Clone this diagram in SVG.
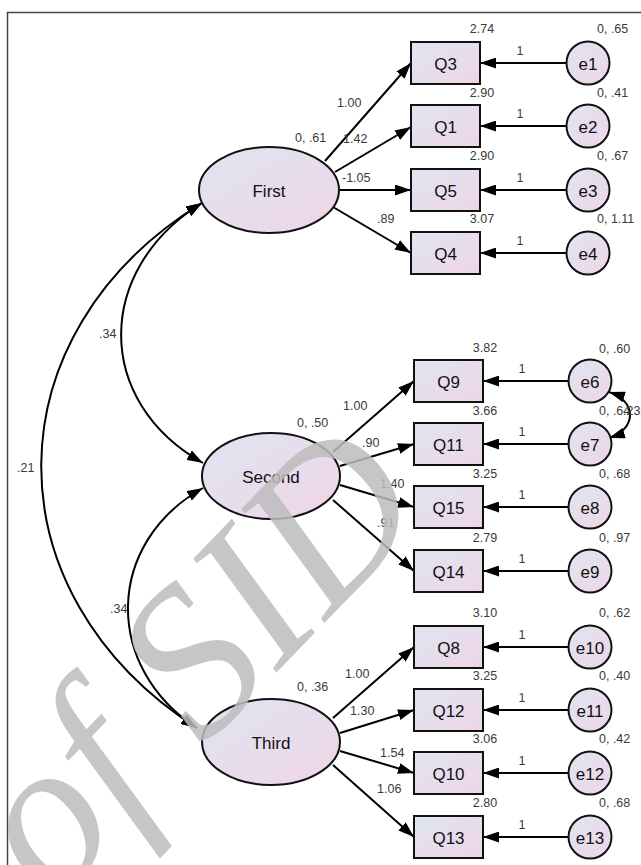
<svg xmlns="http://www.w3.org/2000/svg" width="641" height="865" viewBox="0 0 641 865">
<style>
.n{fill:url(#g);stroke:#111;stroke-width:2}
.t{font-family:"Liberation Sans",Arial,sans-serif;font-size:17px;fill:#111;text-anchor:middle;dominant-baseline:central}
.v{font-family:"Liberation Sans",Arial,sans-serif;font-size:12.5px;fill:#3a3a3a}
.m{text-anchor:middle}
.c{fill:none;stroke:#000;stroke-width:2}
.wm{font-family:"Liberation Serif","Times New Roman",serif;font-size:212px;font-style:italic;fill:#bdbdbd;opacity:0.85}
</style>
<defs>
<linearGradient id="g" x1="0" y1="0" x2="1" y2="1">
<stop offset="0" stop-color="#dfe5f1"/>
<stop offset="1" stop-color="#efd5e7"/>
</linearGradient>
<marker id="a" viewBox="0 0 16 11" refX="16" refY="5.5" markerWidth="16" markerHeight="11" markerUnits="userSpaceOnUse" orient="auto-start-reverse">
<path d="M0,0 L16,5.5 L0,11 z" fill="#000"/>
</marker>
</defs>
<rect x="7.5" y="12.5" width="650" height="870" fill="none" stroke="#444" stroke-width="1.5"/>

<g id="connectors" class="c" marker-end="url(#a)">
<path d="M325,161 L411,63"/>
<path d="M335,172 L411,127"/>
<path d="M339,190 L411,190"/>
<path d="M333,207 L411,253"/>
<path d="M333,452 L414,381"/>
<path d="M340,466 L414,444"/>
<path d="M340,485 L414,507"/>
<path d="M333,500 L414,571"/>
<path d="M333,718 L414,647"/>
<path d="M340,733 L414,710"/>
<path d="M340,751 L414,773"/>
<path d="M333,765 L414,837"/>
<path d="M566,63 L480,63"/>
<path d="M566,126 L480,126"/>
<path d="M566,190 L480,190"/>
<path d="M566,253 L480,253"/>
<path d="M568,381 L483,381"/>
<path d="M568,444 L483,444"/>
<path d="M568,507 L483,507"/>
<path d="M568,571 L483,571"/>
<path d="M568,647 L483,647"/>
<path d="M568,710 L483,710"/>
<path d="M568,773 L483,773"/>
<path d="M568,837 L483,837"/>
<path d="M202,203 C95,269 93,401 203,463" marker-start="url(#a)"/>
<path d="M202,203 C-10,333 -13,593 197,728" marker-start="url(#a)"/>
<path d="M203,488 C105,543 103,667 197,728" marker-start="url(#a)"/>
<path d="M609,392 C637,401 637,429 609,438" marker-start="url(#a)"/>
</g>

<g id="First"><ellipse class="n" cx="269" cy="190" rx="70" ry="43"/><text class="t" x="269" y="191">First</text></g>
<g id="Second"><ellipse class="n" cx="271" cy="476" rx="69" ry="43"/><text class="t" x="271" y="477">Second</text></g>
<g id="Third"><ellipse class="n" cx="271" cy="742" rx="69" ry="43"/><text class="t" x="271" y="743">Third</text></g>

<g id="Q3"><rect class="n" x="411" y="42" width="69" height="42"/><text class="t" x="445.5" y="64">Q3</text></g>
<g id="Q1"><rect class="n" x="411" y="105" width="69" height="42"/><text class="t" x="445.5" y="127">Q1</text></g>
<g id="Q5"><rect class="n" x="411" y="169" width="69" height="42"/><text class="t" x="445.5" y="191">Q5</text></g>
<g id="Q4"><rect class="n" x="411" y="232" width="69" height="42"/><text class="t" x="445.5" y="254">Q4</text></g>
<g id="Q9"><rect class="n" x="414" y="360" width="69" height="42"/><text class="t" x="448.5" y="382">Q9</text></g>
<g id="Q11"><rect class="n" x="414" y="423" width="69" height="42"/><text class="t" x="448.5" y="445">Q11</text></g>
<g id="Q15"><rect class="n" x="414" y="486" width="69" height="42"/><text class="t" x="448.5" y="508">Q15</text></g>
<g id="Q14"><rect class="n" x="414" y="550" width="69" height="42"/><text class="t" x="448.5" y="572">Q14</text></g>
<g id="Q8"><rect class="n" x="414" y="626" width="69" height="42"/><text class="t" x="448.5" y="648">Q8</text></g>
<g id="Q12"><rect class="n" x="414" y="689" width="69" height="42"/><text class="t" x="448.5" y="711">Q12</text></g>
<g id="Q10"><rect class="n" x="414" y="752" width="69" height="42"/><text class="t" x="448.5" y="774">Q10</text></g>
<g id="Q13"><rect class="n" x="414" y="816" width="69" height="42"/><text class="t" x="448.5" y="838">Q13</text></g>

<g id="e1"><circle class="n" cx="588" cy="63" r="21.5"/><text class="t" x="588" y="64">e1</text></g>
<g id="e2"><circle class="n" cx="588" cy="126" r="21.5"/><text class="t" x="588" y="127">e2</text></g>
<g id="e3"><circle class="n" cx="588" cy="190" r="21.5"/><text class="t" x="588" y="191">e3</text></g>
<g id="e4"><circle class="n" cx="588" cy="253" r="21.5"/><text class="t" x="588" y="254">e4</text></g>
<g id="e6"><circle class="n" cx="590" cy="381" r="21.5"/><text class="t" x="590" y="382">e6</text></g>
<g id="e7"><circle class="n" cx="590" cy="444" r="21.5"/><text class="t" x="590" y="445">e7</text></g>
<g id="e8"><circle class="n" cx="590" cy="507" r="21.5"/><text class="t" x="590" y="508">e8</text></g>
<g id="e9"><circle class="n" cx="590" cy="571" r="21.5"/><text class="t" x="590" y="572">e9</text></g>
<g id="e10"><circle class="n" cx="590" cy="647" r="21.5"/><text class="t" x="590" y="648">e10</text></g>
<g id="e11"><circle class="n" cx="590" cy="710" r="21.5"/><text class="t" x="590" y="711">e11</text></g>
<g id="e12"><circle class="n" cx="590" cy="773" r="21.5"/><text class="t" x="590" y="774">e12</text></g>
<g id="e13"><circle class="n" cx="590" cy="837" r="21.5"/><text class="t" x="590" y="838">e13</text></g>

<g id="labels" class="v">
<text x="295" y="142">0, .61</text>
<text x="297" y="427">0, .50</text>
<text x="297" y="691">0, .36</text>
<text x="337" y="107">1.00</text>
<text x="343" y="143">1.42</text>
<text x="342" y="182">-1.05</text>
<text x="377" y="223">.89</text>
<text x="343" y="410">1.00</text>
<text x="362" y="447">.90</text>
<text x="380" y="488">1.40</text>
<text x="377" y="527">.91</text>
<text x="345" y="678">1.00</text>
<text x="350" y="715">1.30</text>
<text x="380" y="757">1.54</text>
<text x="377" y="793">1.06</text>
<text x="99" y="338">.34</text>
<text x="17" y="472">.21</text>
<text x="110" y="613">.34</text>
<g class="m">
<text x="482" y="33">2.74</text>
<text x="482" y="97">2.90</text>
<text x="482" y="160">2.90</text>
<text x="482" y="223">3.07</text>
<text x="485" y="352">3.82</text>
<text x="485" y="415">3.66</text>
<text x="485" y="478">3.25</text>
<text x="485" y="542">2.79</text>
<text x="485" y="617">3.10</text>
<text x="485" y="680">3.25</text>
<text x="485" y="743">3.06</text>
<text x="485" y="807">2.80</text>
<text x="520" y="55">1</text>
<text x="520" y="118">1</text>
<text x="520" y="182">1</text>
<text x="520" y="245">1</text>
<text x="522" y="373">1</text>
<text x="522" y="436">1</text>
<text x="522" y="499">1</text>
<text x="522" y="563">1</text>
<text x="522" y="639">1</text>
<text x="522" y="702">1</text>
<text x="522" y="765">1</text>
<text x="522" y="829">1</text>
</g>
<text x="597" y="33">0, .65</text>
<text x="597" y="97">0, .41</text>
<text x="597" y="160">0, .67</text>
<text x="597" y="223">0, 1.11</text>
<text x="599" y="353">0, .60</text>
<text x="599" y="415">0, .64</text>
<text x="623" y="415">.23</text>
<text x="599" y="478">0, .68</text>
<text x="599" y="542">0, .97</text>
<text x="599" y="617">0, .62</text>
<text x="599" y="680">0, .40</text>
<text x="599" y="743">0, .42</text>
<text x="599" y="807">0, .68</text>
</g>
<text class="wm" transform="translate(52,905) rotate(-46)">of SID</text>
</svg>
